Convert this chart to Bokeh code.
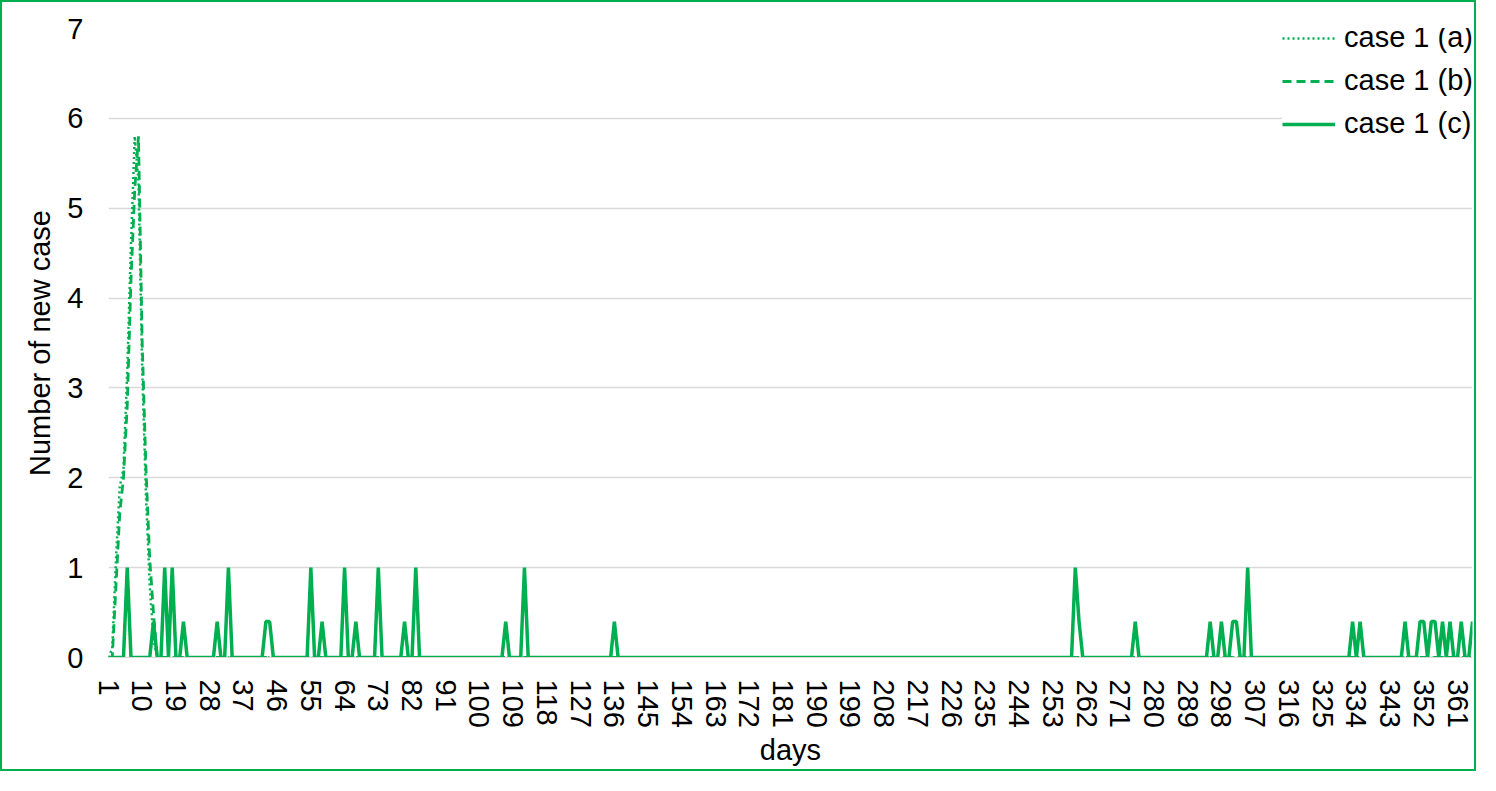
from bokeh.plotting import figure
from bokeh.models import FixedTicker, Legend, LegendItem, Range1d
from bokeh.embed import file_html
from bokeh.resources import INLINE

# ---------------- data ----------------
n_days = 365
x_tick_days = list(range(1, 366, 9))
y_ticks = [0, 1, 2, 3, 4, 5, 6, 7]

# case 1 (a): first days (rest are zero)
a_head = [0, 0.1, 1.1, 1.9, 2.1, 3.2, 4.6, 5.8, 5.3, 3.2, 1.8, 0.8, 0.2, 0]
# case 1 (b): first days (rest are zero)
b_head = [0, 0, 0.8, 1.6, 2.0, 2.8, 4.2, 5.2, 5.8, 3.5, 2.1, 1.1, 0.5, 0]
# case 1 (c): non-zero days and values
c_days = [6, 13, 16, 18, 21, 30, 33, 43, 44, 55, 58, 64, 67, 73, 80, 83,
          107, 112, 136, 259, 260, 275, 295, 298, 301, 302, 305, 333, 335,
          347, 351, 352, 354, 355, 357, 359, 362, 365]
c_vals = [1, 0.4, 1, 1, 0.4, 0.4, 1, 0.4, 0.4, 1, 0.4, 1, 0.4, 1, 0.4, 1,
          0.4, 1, 0.4, 1, 0.4, 0.4, 0.4, 0.4, 0.4, 0.4, 1, 0.4, 0.4,
          0.4, 0.4, 0.4, 0.4, 0.4, 0.4, 0.4, 0.4, 0.4]

days = list(range(1, n_days + 1))
a_vals = a_head + [0] * (n_days - len(a_head))
b_vals = b_head + [0] * (n_days - len(b_head))
c_full = [0] * n_days
for d, v in zip(c_days, c_vals):
    c_full[d - 1] = v

GREEN = "#00B050"
FONT = "Liberation Sans"
FS = "29px"

p = figure(width=1476, height=771, output_backend="svg", toolbar_location=None,
           x_range=Range1d(1, 365), y_range=Range1d(0, 7),
           min_border_left=106, min_border_right=6, min_border_top=26,
           min_border_bottom=116)
p.styles = {"border": "2px solid " + GREEN}
p.outline_line_color = None
p.background_fill_color = "white"
p.border_fill_color = "white"

p.xgrid.grid_line_color = None
p.ygrid.grid_line_color = "#D9D9D9"
p.ygrid.grid_line_width = 1.3

# axes
p.yaxis.ticker = FixedTicker(ticks=y_ticks)
p.yaxis.axis_line_color = None
p.yaxis.major_tick_line_color = None
p.yaxis.minor_tick_line_color = None
p.yaxis.major_label_text_font = FONT
p.yaxis.major_label_text_font_size = FS
p.yaxis.major_label_text_color = "black"
p.yaxis.major_label_standoff = 19
p.yaxis.axis_label = "Number of new case"
p.yaxis.axis_label_text_font = FONT
p.yaxis.axis_label_text_font_size = FS
p.yaxis.axis_label_text_font_style = "normal"
p.yaxis.axis_label_text_color = "black"
p.yaxis.axis_label_standoff = 8

p.xaxis.ticker = FixedTicker(ticks=x_tick_days)
p.xaxis.major_label_orientation = "vertical"
p.xaxis.axis_line_color = "#D9D9D9"
p.xaxis.major_tick_line_color = None
p.xaxis.minor_tick_line_color = None
p.xaxis.major_label_text_font = FONT
p.xaxis.major_label_text_font_size = FS
p.xaxis.major_label_text_color = "black"
p.xaxis.major_label_standoff = 16
p.xaxis.axis_label = "days"
p.xaxis.axis_label_text_font = FONT
p.xaxis.axis_label_text_font_size = FS
p.xaxis.axis_label_text_font_style = "normal"
p.xaxis.axis_label_text_color = "black"
p.xaxis.axis_label_standoff = 3

ra = p.line(days, a_vals, line_color=GREEN, line_width=2.5, line_dash="2 3")
rb = p.line(days, b_vals, line_color=GREEN, line_width=2.8, line_dash="9 5")
rc = p.line(days, c_full, line_color=GREEN, line_width=3.5)

legend = Legend(items=[LegendItem(label="case 1 (a)", renderers=[ra]),
                       LegendItem(label="case 1 (b)", renderers=[rb]),
                       LegendItem(label="case 1 (c)", renderers=[rc])],
                location=(1174, 517), margin=0, padding=0,
                spacing=10, glyph_width=53, glyph_height=20, label_height=20,
                label_standoff=9,
                label_text_font=FONT, label_text_font_size=FS,
                label_text_color="black",
                border_line_color=None, background_fill_color="white",
                background_fill_alpha=1)
p.add_layout(legend)

open("out.html", "w").write(file_html(p, INLINE))
